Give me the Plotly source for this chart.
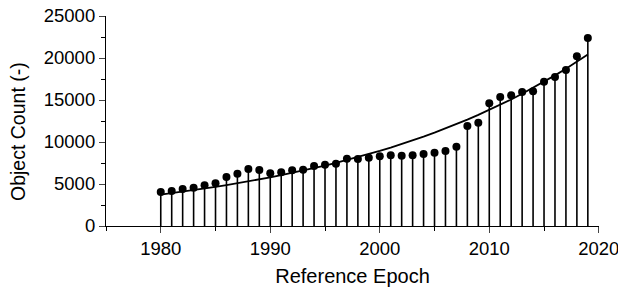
import numpy as np
import plotly.graph_objects as go

years = list(range(1980, 2020))
counts = [4050, 4170, 4400, 4560, 4840, 5080, 5830, 6230, 6790, 6670,
          6270, 6390, 6630, 6700, 7140, 7300, 7420, 8010, 7980, 8130,
          8290, 8410, 8370, 8410, 8570, 8730, 8930, 9440, 11900, 12300,
          14600, 15360, 15560, 15950, 16030, 17180, 17740, 18570, 20200, 22380]

# exponential least-squares fit of the data (weighted log-linear)
x = np.array(years, dtype=float)
y = np.array(counts, dtype=float)
b, loga = np.polyfit(x - 1980, np.log(y), 1, w=y)
fit_y = np.exp(loga) * np.exp(b * (x - 1980))

fig = go.Figure()
fig.add_trace(go.Scatter(
    x=years, y=counts, mode="markers",
    marker=dict(color="black", size=8),
    error_y=dict(type="data", symmetric=False, array=[0] * len(counts),
                 arrayminus=counts, width=0, thickness=1.6, color="black"),
    showlegend=False, cliponaxis=False))
fig.add_trace(go.Scatter(x=years, y=fit_y, mode="lines",
                         line=dict(color="black", width=1.8), showlegend=False))

font = "Liberation Sans, Arial, sans-serif"
fig.update_layout(
    width=618, height=287,
    margin=dict(l=106, r=19, t=16, b=61),
    paper_bgcolor="white", plot_bgcolor="white",
    font=dict(family=font, color="black", size=18.5),
)
fig.update_xaxes(
    range=[1975, 2020.02], tick0=1980, dtick=10, ticks="outside", ticklen=6,
    tickwidth=1.2, showline=True, linecolor="black", linewidth=1.2,
    showgrid=False, zeroline=False, tickfont=dict(size=18.5), automargin=False,
    ticklabeloverflow="allow",
    minor=dict(dtick=5, tick0=1975, ticks="outside", ticklen=4, tickwidth=1, tickcolor="black"),
    title=dict(text="Reference Epoch", font=dict(size=20), standoff=10))
fig.update_yaxes(
    range=[0, 25000], dtick=5000, tickformat="d", ticks="outside", ticklen=6, tickwidth=1.2,
    showline=True, linecolor="black", linewidth=1.2, showgrid=False, zeroline=False,
    tickfont=dict(size=18.5), automargin=False, ticklabeloverflow="allow")
fig.update_yaxes(minor=dict(dtick=2500, ticks="outside", ticklen=4, tickwidth=1, tickcolor="black"))

fig.add_annotation(
    text="Object Count (-)", textangle=-90, showarrow=False,
    xref="paper", yref="paper", x=0, y=0.5, xanchor="center", yanchor="middle",
    xshift=-88, yshift=-11, font=dict(size=19.5, family=font, color="black"))

# remove the page's default body margin and scrollbars so the figure fills the window
fig.write_html("out.html",
               config={"displayModeBar": False},
               post_script="document.body.style.margin='0';document.body.style.overflow='hidden';")
